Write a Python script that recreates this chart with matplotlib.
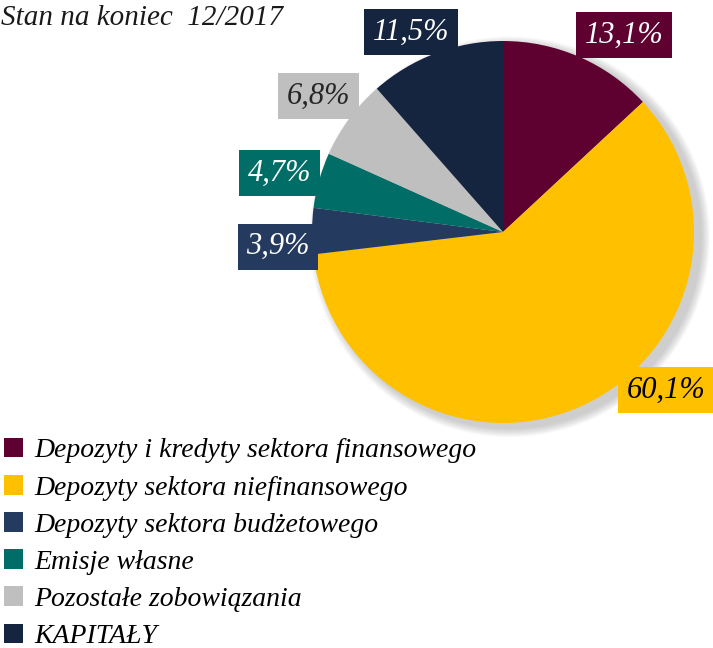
import numpy as np
import matplotlib.pyplot as plt
from matplotlib.patches import Circle

# struktura pasywow, stan na koniec 12/2017 (%)
kategorie = [
    'Depozyty i kredyty sektora finansowego',
    'Depozyty sektora niefinansowego',
    'Depozyty sektora budżetowego',
    'Emisje własne',
    'Pozostałe zobowiązania',
    'KAPITAŁY',
]
udzialy = [13.1, 60.1, 3.9, 4.7, 6.8, 11.5]
kolory = ['#5E0030', '#FFC000', '#243A5E', '#006E66', '#BFBFBF', '#15243F']
kolor_tekstu = ['white', 'black', 'white', 'white', '#262626', 'white']

# przesuniecie etykiet wzgledem srodka wycinka (stopnie, promien)
przes_kat = [-8, 21, 4, 1, 0, 4]
przes_r = [1.21, 1.19, 1.18, 1.21, 1.20, 1.15]

plt.rcParams['font.family'] = ['Liberation Serif', 'DejaVu Serif']

W, H = 713, 648
fig = plt.figure(figsize=(W / 100, H / 100), dpi=100)

cx, cy, R = 503, 232, 191
ax = fig.add_axes([(cx - R) / W, (H - cy - R) / H, 2 * R / W, 2 * R / H])

# rozmyty cien pod kolem
for i in range(8):
    ax.add_patch(Circle((0.035, -0.025), 1.0 + 0.006 * (8 - i), color='#7a7a7a',
                        alpha=0.05, lw=0, zorder=0, clip_on=False))

wedges, _ = ax.pie(udzialy, colors=kolory, startangle=90, counterclock=False,
                   radius=1.0, wedgeprops=dict(linewidth=0))
for w in wedges:
    w.set_zorder(2)
    w.set_clip_on(False)

ax.set_xlim(-1, 1)
ax.set_ylim(-1, 1)
ax.set_aspect('equal')
ax.axis('off')

for w, v, tc, dk, r, fc in zip(wedges, udzialy, kolor_tekstu, przes_kat, przes_r, kolory):
    kat = np.deg2rad((w.theta1 + w.theta2) / 2 + dk)
    ax.text(r * np.cos(kat), r * np.sin(kat), f'{v:.1f}%'.replace('.', ','),
            ha='center', va='center', fontsize=22, style='italic', color=tc,
            zorder=5, clip_on=False,
            bbox=dict(boxstyle='square,pad=0.28', facecolor=fc, edgecolor='none'))

fig.text(1 / W, 1 - 5 / H, 'Stan na koniec  12/2017', ha='left', va='top',
         fontsize=21, style='italic', color='#1a1a1a')

fig.legend(wedges, kategorie, loc='upper left', bbox_to_anchor=(4 / W, 1 - 438 / H),
           frameon=False, prop=dict(size=20, style='italic'),
           handlelength=0.68, handleheight=0.7, handletextpad=0.4,
           labelspacing=0.42, borderpad=0, borderaxespad=0)

fig.savefig('out.png', dpi=100)
